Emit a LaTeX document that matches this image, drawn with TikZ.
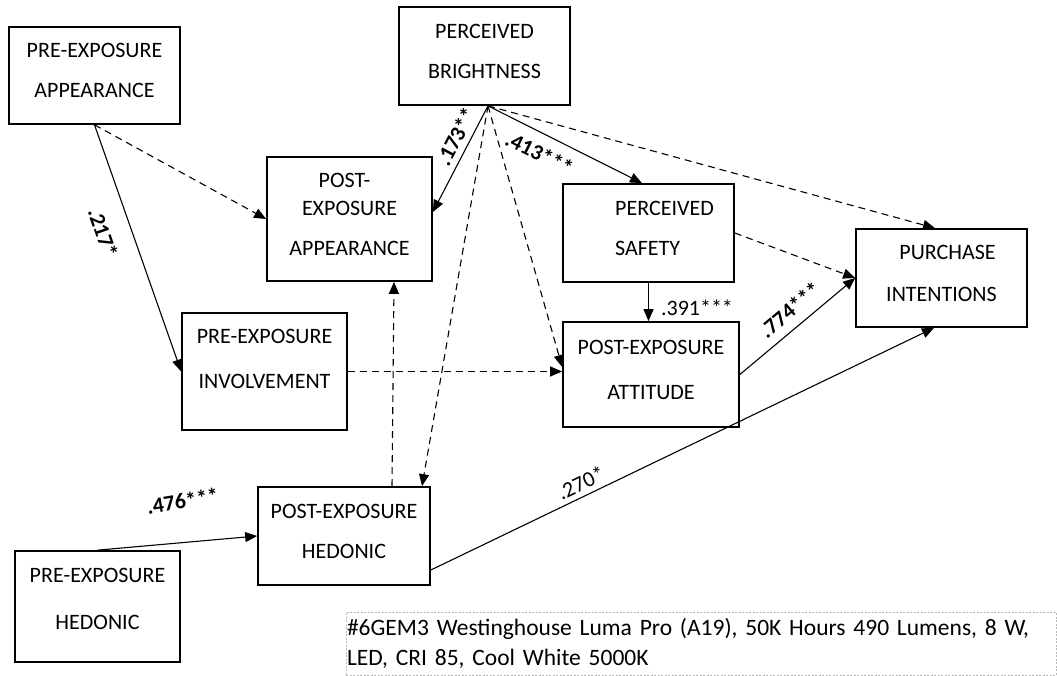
\documentclass[tikz,border=0pt]{standalone}
\usepackage{fontspec}
\setmainfont{Carlito}
\usetikzlibrary{arrows.meta,positioning,calc}

\begin{document}
\begin{tikzpicture}[
  x=1pt, y=-1pt,
  box/.style={draw, line width=1.7pt, inner sep=0pt, align=center, text depth=10pt,
              font=\fontsize{22}{40}\selectfont},
  sig/.style={line width=1.1pt, -{Triangle[length=12pt,width=10pt]}},
  nonsig/.style={sig, dash pattern=on 7pt off 5pt},
  coef/.style={font=\fontsize{22}{26}\selectfont\bfseries, inner sep=2pt},
  coefplain/.style={font=\fontsize{22}{26}\selectfont, inner sep=2pt},
  note/.style={draw=gray!55, line width=0.6pt, dash pattern=on 2pt off 1.5pt,
               minimum width=710pt, minimum height=63pt, text width=708pt,
               align=left, inner xsep=1pt, inner ysep=2pt,
               font=\fontsize{23.5}{30}\selectfont}
]
  \useasboundingbox (0,0) rectangle (1057,676);

  % constructs
  \node[box, minimum width=171pt, minimum height=97pt]  (preapp)   at (94.5,75.5)  {PRE-EXPOSURE\\APPEARANCE};
  \node[box, minimum width=171pt, minimum height=98pt]  (bright)   at (484.5,56)   {PERCEIVED\\BRIGHTNESS};
  \node[box, minimum width=165pt, minimum height=124pt] (postapp)  at (349.5,219)  {POST-\hspace*{10pt}\\[-12pt]EXPOSURE\\APPEARANCE};
  \node[box, minimum width=171pt, minimum height=98pt, align=left] (safety) at (648.5,233) {\hspace*{32pt}PERCEIVED\\\hspace*{32pt}SAFETY};
  \node[box, minimum width=171pt, minimum height=98pt]  (purchase) at (941.5,278)  {\hspace*{12pt}PURCHASE\\[2pt]INTENTIONS};
  \node[box, minimum width=165pt, minimum height=117pt, text depth=26pt] (preinv) at (264.5,371.5) {PRE-EXPOSURE\\[5pt]INVOLVEMENT};
  \node[box, minimum width=176pt, minimum height=105pt] (attitude) at (651,374.5)  {POST-EXPOSURE\\[5pt]ATTITUDE};
  \node[box, minimum width=172pt, minimum height=98pt]  (posthed)  at (344,536)    {POST-EXPOSURE\\HEDONIC};
  \node[box, minimum width=165pt, minimum height=111pt, text depth=16pt] (prehed) at (97.5,606.5) {PRE-EXPOSURE\\[7pt]HEDONIC};

  \node[note] (spec) at (701,643.5) {\#6GEM3 Westinghouse Luma Pro (A19), 50K Hours 490 Lumens, 8 W,\\LED, CRI 85, Cool White 5000K};

  % paths
  \coordinate (brightfoot) at ($(bright.south)+(3.5,0)$);

  \draw[sig] (preapp.south) -- node[coef, pos=0.4, sloped, below=17pt] {.217*} (preinv.west);
  \draw[nonsig] (preapp.south) -- (postapp.west);

  \draw[sig] (brightfoot) -- node[coef, pos=0.35, sloped, above=4pt] {.173**} ($(postapp.east)+(0,-7)$);
  \draw[nonsig] (brightfoot) -- ($(posthed.north)+(78,0)$);
  \draw[nonsig] (brightfoot) -- ($(attitude.west)+(0,-7.5)$);
  \draw[sig] (brightfoot) -- node[coef, pos=0.39, sloped, below=9pt] {.413***} ($(safety.north)+(-6.5,0)$);
  \draw[nonsig] (brightfoot) -- ($(purchase.north)+(-6.5,0)$);

  \draw[nonsig] ($(posthed.north)+(48,0)$) -- ($(postapp.south)+(44.5,0)$);
  \draw[nonsig] (preinv.east) -- (preinv.east -| attitude.west);

  \draw[sig] (safety.south) -- node[coefplain, pos=0.65, right=10pt] {.391***} (safety.south |- attitude.north);
  \draw[nonsig] (safety.east) -- (purchase.west);
  \draw[sig] (attitude.east) -- node[coef, pos=0.53, sloped, above=7pt] {.774***} (purchase.west);

  \draw[sig] (prehed.north) -- node[coef, pos=0.56, sloped, above=31pt, rotate=4] {.476***} (posthed.west);
  \draw[sig] ($(posthed.east)+(0,34)$) -- node[coefplain, pos=0.31, sloped, above=3pt] {.270*} ($(purchase.south)+(-7.5,0)$);
\end{tikzpicture}
\end{document}
